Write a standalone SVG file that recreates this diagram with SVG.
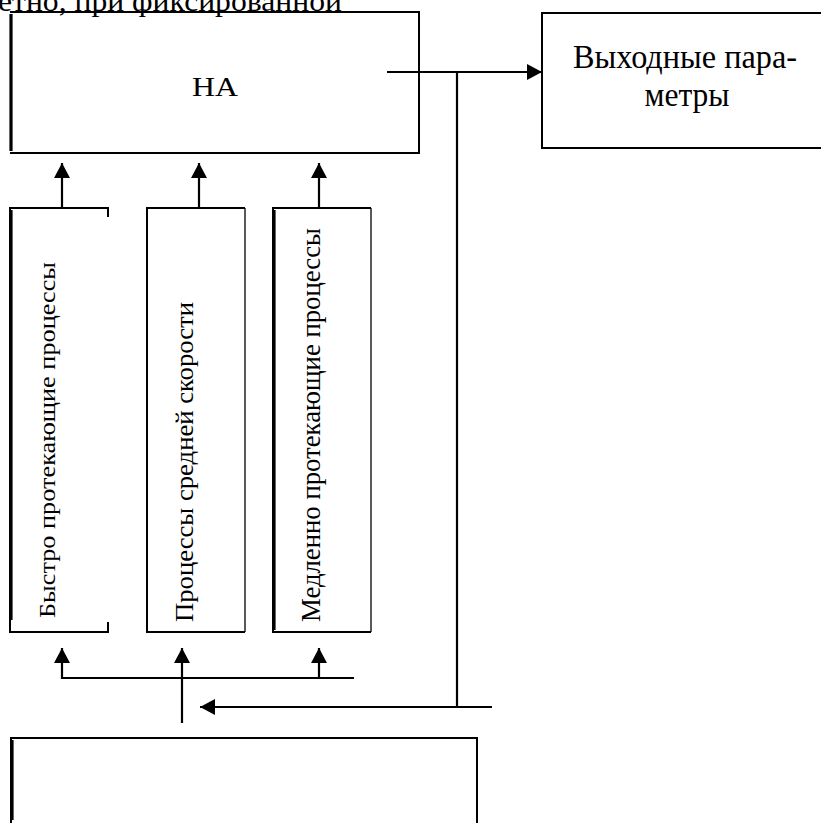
<svg xmlns="http://www.w3.org/2000/svg" width="821" height="823" viewBox="0 0 821 823">
  <style>
    .box { fill: none; stroke: #000; stroke-width: 2; }
    .thin { fill: none; stroke: #000; stroke-width: 1.3; }
    .thick { fill: none; stroke: #000; stroke-width: 3.2; }
    .conn { fill: none; stroke: #000; stroke-width: 2.2; }
    text { font-family: 'Liberation Serif', 'DejaVu Serif', 'Times New Roman', serif; fill: #000; }
  </style>
  <defs>
    <marker id="ah" viewBox="0 0 15 16" refX="15" refY="8" markerWidth="15" markerHeight="16" markerUnits="userSpaceOnUse" orient="auto">
      <path d="M0,0 L15,8 L0,16 z" fill="#000"/>
    </marker>
  </defs>
  <rect width="821" height="823" fill="#fff"/>

  <text font-family="Liberation Serif, serif" x="-2" y="11" font-size="30" textLength="344" lengthAdjust="spacingAndGlyphs">етно,  при  фиксированной</text>

  <g id="na">
    <path class="box" d="M10,12 H419 V153 H10"/>
    <path class="thick" d="M11,14 V151"/>
    <path class="thin" d="M419,12 V153"/>
    <text font-family="Liberation Serif, serif" x="215" y="96" font-size="28" text-anchor="middle" textLength="46" lengthAdjust="spacingAndGlyphs">НА</text>
  </g>

  <g id="output">
    <path class="box" d="M821,13 H542 V148 H821"/>
    <text font-family="Liberation Serif, serif" x="685" y="68" font-size="34" text-anchor="middle" textLength="224" lengthAdjust="spacingAndGlyphs">Выходные пара-</text>
    <text font-family="Liberation Serif, serif" x="687" y="106" font-size="34" text-anchor="middle" textLength="85" lengthAdjust="spacingAndGlyphs">метры</text>
  </g>

  <g id="fast">
    <path class="box" d="M108,217 V208 H10 V632 H108 V622"/>
    <path class="thick" d="M11,210 V620"/>
    <text font-family="Liberation Serif, serif" font-size="24" transform="translate(55,618) rotate(-90)" textLength="356" lengthAdjust="spacingAndGlyphs">Быстро протекающие процессы</text>
  </g>

  <g id="medium">
    <path class="box" d="M245,208 H147 V632 H245"/>
    <path class="thin" d="M245,208 V632"/>
    <text font-family="Liberation Serif, serif" font-size="26" transform="translate(193,622) rotate(-90)" textLength="320" lengthAdjust="spacingAndGlyphs">Процессы средней скорости</text>
  </g>

  <g id="slow">
    <path class="box" d="M371,208 H273 V632 H371"/>
    <path class="thick" d="M274,210 V630"/>
    <path class="thin" d="M371,208 V632"/>
    <text font-family="Liberation Serif, serif" font-size="27" transform="translate(320,622) rotate(-90)" textLength="394" lengthAdjust="spacingAndGlyphs">Медленно протекающие процессы</text>
  </g>

  <g id="bottom">
    <path class="box" d="M11,823 V738 H477 V823"/>
    <path class="thick" d="M12,740 V820"/>
  </g>

  <g id="connectors">
    <line class="conn" x1="62" y1="208" x2="62" y2="163" marker-end="url(#ah)"/>
    <line class="conn" x1="199" y1="208" x2="199" y2="163" marker-end="url(#ah)"/>
    <line class="conn" x1="319" y1="208" x2="319" y2="163" marker-end="url(#ah)"/>
    <line class="conn" x1="387" y1="72" x2="542" y2="72" marker-end="url(#ah)"/>
    <line class="conn" x1="457" y1="72" x2="457" y2="707"/>
    <line class="conn" x1="492" y1="707" x2="200" y2="707" marker-end="url(#ah)"/>
    <path class="conn" d="M354,678 H62 V648" marker-end="url(#ah)"/>
    <line class="conn" x1="319" y1="678" x2="319" y2="648" marker-end="url(#ah)"/>
    <line class="conn" x1="182" y1="723" x2="182" y2="648" marker-end="url(#ah)"/>
  </g>
</svg>
